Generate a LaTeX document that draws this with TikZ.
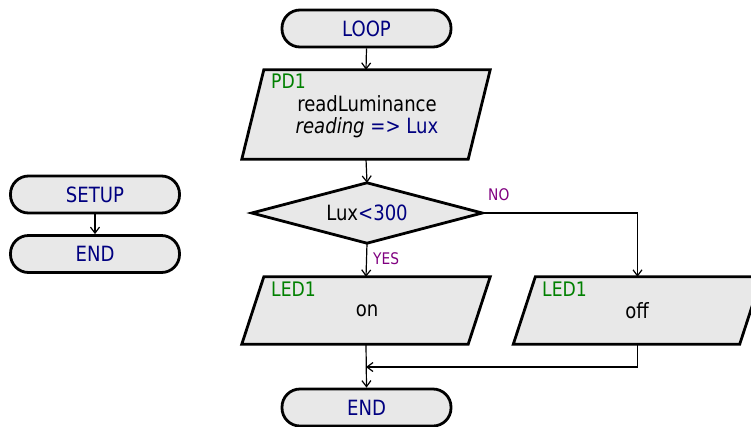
\documentclass[tikz,border=0pt]{standalone}
\usepackage{fontspec}
\setmainfont{DejaVu Sans}[FakeStretch=0.86]
\usetikzlibrary{arrows.meta,calc}
\definecolor{fillgray}{HTML}{E8E8E8}
\definecolor{navy}{RGB}{0,0,128}
\definecolor{dgreen}{RGB}{0,128,0}
\definecolor{purp}{RGB}{128,0,128}
\tikzset{
  x=1pt,y=-1pt,
  border/.style={draw=black,line width=2.8pt,fill=fillgray,line join=miter},
  term/.style={border,rounded corners=18pt,minimum width=169pt,minimum height=37pt,inner sep=0pt,text=navy,font=\fontsize{21}{23}\selectfont},
  box/.style={draw=none,inner sep=0pt},
  conn/.style={line width=1.2pt,-{Straight Barb[length=6pt,width=9pt,line width=1.2pt]}},
  txt/.style={font=\fontsize{21}{23}\selectfont,inner sep=0pt},
  tag/.style={font=\fontsize{20}{22}\selectfont,text=dgreen,inner sep=0pt,anchor=west},
  yn/.style={font=\fontsize{16}{18}\selectfont,text=purp,inner sep=0pt,anchor=west}
}
\begin{document}
\begin{tikzpicture}
\useasboundingbox (0,0) rectangle (751,426);
% terminals
\node[term] (loop) at (366.5,28.5) {LOOP};
\node[term] (end) at (366.5,407.5) {END};
\node[term] (setup) at (95,194.5) {SETUP};
\node[term] (end1) at (95,254) {END};
% PD1 parallelogram
\node[box,minimum width=248pt,minimum height=89pt] (pd) at (366,114.5) {};
\path[border] ($(pd.north west)+(22,0)$) -- (pd.north east) -- ($(pd.south east)-(22,0)$) -- (pd.south west) -- cycle;
\node[tag] (pdtag) at (271,81) {PD1};
\node[txt] (pdt1) at (367,104) {readLuminance};
\node[txt] (pdt2) at (367,128) {\textit{reading} \textcolor{navy}{=> Lux}};
% decision
\node[box,minimum width=230pt,minimum height=60pt] (dec) at (367,213) {};
\path[border] (dec.north) -- (dec.east) -- (dec.south) -- (dec.west) -- cycle;
\node[txt] (dect) at (367,213) {Lux\textcolor{navy}{<300}};
% LED on
\node[box,minimum width=248pt,minimum height=67pt] (on) at (366,310.5) {};
\path[border] ($(on.north west)+(22,0)$) -- (on.north east) -- ($(on.south east)-(22,0)$) -- (on.south west) -- cycle;
\node[tag] (ontag) at (271,289) {LED1};
\node[txt] (ont) at (367,311) {on};
% LED off
\node[box,minimum width=248pt,minimum height=67pt] (off) at (637.5,310.5) {};
\path[border] ($(off.north west)+(22,0)$) -- (off.north east) -- ($(off.south east)-(22,0)$) -- (off.south west) -- cycle;
\node[tag] (offtag) at (542,289) {LED1};
\node[txt] (offt) at (637,311) {off};
% connectors
\draw[conn] (loop.south) -- (pd.north);
\draw[conn] (pd.south) -- (dec.north);
\draw[conn] (dec.south) -- (on.north);
\node[yn] (yes) at (373,259) {YES};
\draw[conn] (dec.east) -| (off.north);
\node[yn] (no) at (488,195) {NO};
\coordinate (j) at (366,367);
\draw[conn] (on.south) -- (end.north);
\draw[conn] (off.south) |- (j);
\draw[conn] (setup.south) -- (end1.north);
\end{tikzpicture}
\end{document}
